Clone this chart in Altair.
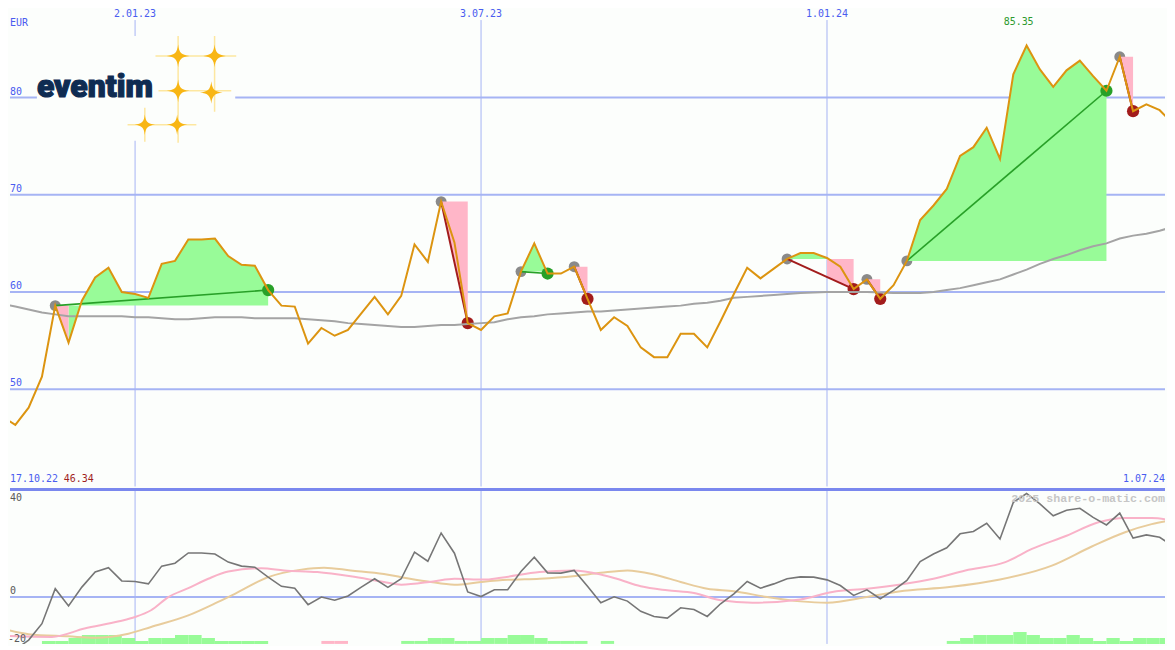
import altair as alt
import pandas as pd

# ---------------- data (weekly, week 0 = START) ----------------
START = "2022-10-24"
END = "2024-07-01"

PRICE = [47.2, 46.34, 48.1, 51.3, 58.6, 54.8, 59.1, 61.5, 62.5, 60.0,
         59.8, 59.4, 62.9, 63.2, 65.4, 65.4, 65.5, 63.7, 62.8, 62.7,
         60.2, 58.6, 58.5, 54.7, 56.3, 55.5, 56.1, 57.8, 59.5, 57.7,
         59.6, 64.9, 63.1, 69.3, 65.1, 56.8, 56.1, 57.5, 57.8, 62.1,
         65.0, 61.9, 61.9, 62.6, 59.3, 56.1, 57.4, 56.5, 54.3, 53.3,
         53.3, 55.7, 55.7, 54.3, 57.0, 59.8, 62.5, 61.4, 62.4, 63.4,
         64.0, 64.0, 63.5, 62.6, 60.3, 61.3, 59.3, 60.7, 63.2, 67.4,
         68.9, 70.6, 74.0, 74.9, 76.9, 73.7, 82.4, 85.35, 82.9, 81.1,
         82.8, 83.8, 82.2, 80.7, 84.2, 78.6, 79.3, 78.7, 77.3]

MA = [58.8, 58.5, 58.2, 57.9, 57.7, 57.5, 57.5, 57.5, 57.5, 57.5,
      57.4, 57.4, 57.3, 57.2, 57.2, 57.3, 57.4, 57.4, 57.4, 57.3,
      57.3, 57.3, 57.3, 57.2, 57.1, 57.0, 56.8, 56.7, 56.6, 56.5,
      56.4, 56.4, 56.5, 56.6, 56.6, 56.7, 56.8, 56.9, 57.2, 57.4,
      57.5, 57.7, 57.8, 57.9, 58.0, 58.0, 58.1, 58.2, 58.3, 58.4,
      58.5, 58.6, 58.8, 58.9, 59.1, 59.4, 59.5, 59.6, 59.7, 59.8,
      59.9, 59.95, 60.0, 60.0, 60.0, 60.0, 59.95, 59.9, 59.9, 59.9,
      60.0, 60.2, 60.4, 60.7, 61.0, 61.3, 61.8, 62.3, 62.9, 63.4,
      63.8, 64.3, 64.7, 65.0, 65.5, 65.8, 66.0, 66.3, 66.7]

OSC = [-18.8, -19.5, -16.0, -9.9, 3.1, -3.3, 3.7, 9.3, 10.9, 6.0,
       5.8, 4.9, 11.5, 12.6, 16.4, 16.4, 16.0, 13.0, 11.5, 11.1,
       7.4, 4.0, 3.3, -2.8, 0.0, -1.2, 0.4, 3.7, 6.8, 3.6,
       6.8, 16.7, 13.3, 23.8, 16.3, 1.9, 0.2, 2.7, 2.7, 9.5,
       14.8, 9.0, 8.9, 9.9, 4.0, -2.1, 0.1, -1.5, -5.3, -7.2,
       -7.8, -4.0, -4.6, -7.2, -2.5, 1.2, 5.8, 3.3, 4.9, 6.8,
       7.5, 7.4, 6.4, 4.3, 0.6, 2.7, -0.6, 2.5, 6.2, 13.2,
       16.0, 18.3, 23.5, 24.4, 27.4, 21.6, 35.2, 38.5, 34.6, 30.2,
       32.3, 33.0, 29.6, 26.8, 31.2, 21.9, 23.1, 22.2, 18.9]

FAST_WEEK = [0, 3.75, 6.2, 8.8, 10, 11.2, 12.5, 14, 15.5, 17, 19.5, 21.2, 23.7,
             26.2, 28.7, 30, 32.4, 34, 36.2, 37.5, 40.4, 42.9, 45, 46.2, 48, 50,
             52, 54, 56.4, 60, 62.4, 65, 67.4, 70, 72.4, 75.4, 77.4, 80, 82.4,
             84.4, 86.4, 88]
FAST_VAL = [-14.4, -14.8, -11.7, -9.0, -7.4, -4.9, 0.0, 3.3, 6.8, 9.5, 10.7, 9.9, 9.3,
            7.7, 5.6, 4.6, 5.8, 6.8, 6.5, 7.2, 9.3, 9.9, 8.4, 6.8, 4.0, 2.5,
            1.5, -1.2, -2.1, -0.9, 1.9, 3.1, 4.6, 6.8, 9.9, 13.0, 17.9, 22.8, 27.8,
            29.4, 29.4, 28.4]

SLOW_WEEK = [0, 2, 5, 7, 9.5, 11.2, 14, 16.2, 17.5, 20, 22.5, 24.2, 26.2, 28.7,
             30, 32, 34, 36, 38, 40.4, 42.9, 45, 47, 49, 51, 53, 55, 57.5, 60,
             62, 65, 67.4, 71.2, 75, 78.9, 81.9, 84.4, 86.4, 88]
SLOW_VAL = [-11.7, -13.8, -14.6, -15.1, -13.6, -11.1, -6.8, -1.9, 1.2, 7.4, 10.2, 10.9, 9.9, 8.6,
            7.4, 5.8, 4.6, 5.6, 6.4, 6.8, 7.7, 9.0, 9.9, 8.4, 5.6, 3.1, 2.2, 0.0, -1.6,
            -2.1, 0.0, 2.1, 3.7, 6.5, 11.7, 18.8, 24.1, 27.1, 28.6]

# trades: entry week, exit week, outcome
TRADE_IN = [4, 33, 39, 43, 59, 65, 68, 84]
TRADE_OUT = [20, 35, 41, 44, 64, 66, 83, 85]
TRADE_WIN = [True, False, True, False, False, False, True, False]

BAR_GAIN_WEEK = [3, 4, 5, 6, 7, 8, 9, 10, 11, 12, 13, 14, 15, 16, 17, 18, 19,
                 30, 31, 32, 33, 34, 35, 36, 37, 38, 39, 40, 41, 42, 43, 45,
                 71, 72, 73, 74, 75, 76, 77, 78, 79, 80, 81, 82, 83, 84, 85, 86, 87]
BAR_GAIN_LEVEL = [1, 1, 2, 3, 3, 3, 2, 1, 2, 2, 3, 3, 2, 1, 1, 1, 1,
                  1, 1, 2, 2, 1, 1, 2, 2, 3, 3, 2, 1, 1, 1, 1,
                  1, 2, 3, 3, 3, 4, 3, 2, 2, 3, 2, 1, 2, 1, 2, 2, 2]
BAR_LOSS_WEEK = [24, 25]
BAR_LOSS_LEVEL = [1, 1]

GRID_DATES = ["2023-01-02", "2023-07-03", "2024-01-01"]
GRID_LABELS = ["2.01.23", "3.07.23", "1.01.24"]
PRICE_TICKS = [50, 60, 70, 80]
OSC_TICKS = [40, 0, -20]
FIRST_LABEL, LOW_LABEL, LAST_LABEL, HIGH_LABEL = "17.10.22", "46.34", "1.07.24", "85.35"
CURRENCY = "EUR"
WATERMARK = "2025 share-o-matic.com"
LOGO_TEXT = "eventim"

# ---------------- styling / layout ----------------
BG = "#fcfefc"
GRID = "#a6b4f4"
SEP = "#7a88ee"
LBL = "#4a5cf0"
PRICE_C = "#dc9410"
MA_C = "#a4a4a4"
GAIN_FILL = "#98fb98"
LOSS_FILL = "#ffb6c8"
BUY_C = "#8a8a8a"
WIN_C = "#28a028"
LOSS_C = "#a21c1c"
OSC_C = "#767676"
FAST_C = "#f9b2c8"
SLOW_C = "#e8cc9c"
GOLD = "#f8b614"
RAY = "#fde7a0"
NAVY = "#0f2c52"
MONO = "DejaVu Sans Mono"

W, H1, H2 = 1159, 479, 155
t0 = pd.Timestamp(START)
TOTAL_DAYS = (pd.Timestamp(END) - t0).days
PX_PER_DAY = 1175 / TOTAL_DAYS
X0 = 8 / PX_PER_DAY
xs = alt.Scale(domain=[X0, X0 + W / PX_PER_DAY], nice=False, zero=False)
ys1 = alt.Scale(domain=[40, 89.1], nice=False, zero=False)
ys2 = alt.Scale(domain=[40 - H2 / 2.7, 40], nice=False, zero=False)
BAR_UNIT = 1.1


def day(d):
    return (pd.Timestamp(d) - t0).days


def X(f):
    return alt.X(f, type="quantitative", scale=xs, axis=None)


def Y1(f):
    return alt.Y(f, type="quantitative", scale=ys1, axis=None)


def Y2(f):
    return alt.Y(f, type="quantitative", scale=ys2, axis=None)


one = pd.DataFrame({"k": [0]})
weeks = list(range(len(PRICE)))
main_df = pd.DataFrame({"d": [7 * w for w in weeks], "price": PRICE, "ma": MA, "osc": OSC})
grid_df = pd.DataFrame({"d": [day(g) for g in GRID_DATES], "lab": GRID_LABELS})

# trade fills
rows = []
run = 0
TOL = 0.3
for b, s in zip(TRADE_IN, TRADE_OUT):
    lvl = PRICE[b]

    def tline(k, b=b, s=s):
        return PRICE[b] + (PRICE[s] - PRICE[b]) * (k - b) / (s - b)

    kinds = ["gain" if PRICE[k + 1] >= lvl - TOL else "loss" for k in range(b, s)]
    k = b
    while k < s:
        c = kinds[k - b]
        j = k
        while j < s and kinds[j - b] == c:
            j += 1
        for m in range(k, j + 1):
            lo = PRICE[m] if c == "gain" else min(PRICE[m], tline(m))
            rows.append({"d": 7 * m, "lo": lo, "lvl": lvl, "run": run, "kind": c})
        run += 1
        k = j
fill_df = pd.DataFrame(rows)

trade_df = pd.DataFrame({
    "d0": [7 * b for b in TRADE_IN], "d1": [7 * s for s in TRADE_OUT],
    "p0": [PRICE[b] for b in TRADE_IN], "p1": [PRICE[s] for s in TRADE_OUT],
    "win": TRADE_WIN,
})

# ---------------- main panel ----------------
hgrid = alt.Chart(pd.DataFrame({"v": PRICE_TICKS})).mark_rule(color=GRID, strokeWidth=2).encode(y=Y1("v"))
vgrid = alt.Chart(grid_df).mark_rule(color=GRID, strokeWidth=1).encode(
    x=X("d"), y=alt.value(11), y2=alt.value(H1))

# logo
logo_bg = alt.Chart(one).mark_rect(color=BG).encode(
    x=alt.value(27), x2=alt.value(226), y=alt.value(27), y2=alt.value(132))
RAYS_H = [(146, 227, 47), (149, 222, 82), (118, 187, 116)]
RAYS_V = [(168.7, 27, 134), (205.3, 27, 103), (135.3, 99, 133)]
rays_h = alt.Chart(pd.DataFrame(RAYS_H, columns=["a", "b", "c"])).mark_rule(
    color=RAY, strokeWidth=1.5).encode(x=alt.X("a:Q", scale=None, axis=None),
                                       x2="b:Q", y=alt.Y("c:Q", scale=None, axis=None))
rays_v = alt.Chart(pd.DataFrame(RAYS_V, columns=["a", "b", "c"])).mark_rule(
    color=RAY, strokeWidth=1.5).encode(x=alt.X("a:Q", scale=None, axis=None),
                                       y=alt.Y("b:Q", scale=None, axis=None), y2="c:Q")
STARS = [(168.7, 47, 520), (205.3, 47, 520), (168.7, 82, 520), (202, 83.7, 520),
         (135.3, 116, 420), (167.7, 116, 420)]
SPARKLE = ("M0,-1 C0.08,-0.28 0.28,-0.08 1,0 C0.28,0.08 0.08,0.28 0,1 "
           "C-0.08,0.28 -0.28,0.08 -1,0 C-0.28,-0.08 -0.08,-0.28 0,-1 Z")
stars = alt.Chart(pd.DataFrame(STARS, columns=["a", "b", "s"])).mark_point(
    shape=SPARKLE, filled=True, color=GOLD, opacity=1).encode(
    x=alt.X("a:Q", scale=None, axis=None), y=alt.Y("b:Q", scale=None, axis=None),
    size=alt.Size("s:Q", scale=None, legend=None))
logo_txt = alt.Chart(one).mark_text(
    text=LOGO_TEXT, font="Roboto", fontWeight=900, fontSize=32, color=NAVY,
    stroke=NAVY, strokeWidth=1.2, align="left", baseline="alphabetic").encode(
    x=alt.value(27), y=alt.value(88.5))

gain_area = alt.Chart(fill_df[fill_df.kind == "gain"]).mark_area(color=GAIN_FILL, opacity=1).encode(
    x=X("d"), y=Y1("lo"), y2="lvl:Q", detail="run:N")
loss_area = alt.Chart(fill_df[fill_df.kind == "loss"]).mark_area(color=LOSS_FILL, opacity=1).encode(
    x=X("d"), y=Y1("lo"), y2="lvl:Q", detail="run:N")

buy_pts = alt.Chart(trade_df).mark_circle(color=BUY_C, size=120, opacity=1).encode(x=X("d0"), y=Y1("p0"))
win_pts = alt.Chart(trade_df[trade_df.win]).mark_circle(color=WIN_C, size=150, opacity=1).encode(
    x=X("d1"), y=Y1("p1"))
loss_pts = alt.Chart(trade_df[~trade_df.win]).mark_circle(color=LOSS_C, size=150, opacity=1).encode(
    x=X("d1"), y=Y1("p1"))
win_lines = alt.Chart(trade_df[trade_df.win]).mark_rule(color=WIN_C, strokeWidth=1.6).encode(
    x=X("d0"), x2="d1:Q", y=Y1("p0"), y2="p1:Q")
loss_lines = alt.Chart(trade_df[~trade_df.win]).mark_rule(color=LOSS_C, strokeWidth=2).encode(
    x=X("d0"), x2="d1:Q", y=Y1("p0"), y2="p1:Q")

ma_line = alt.Chart(main_df).mark_line(color=MA_C, strokeWidth=2, clip=True).encode(x=X("d"), y=Y1("ma"))
price_line = alt.Chart(main_df).mark_line(color=PRICE_C, strokeWidth=2, clip=True).encode(x=X("d"), y=Y1("price"))

txt = dict(font=MONO, fontSize=10)
price_lbl = alt.Chart(pd.DataFrame({"v": PRICE_TICKS, "t": [str(v) for v in PRICE_TICKS]})).mark_text(
    color=LBL, align="left", baseline="alphabetic", dy=-3, **txt).encode(
    x=alt.value(0), y=Y1("v"), text="t:N")
date_lbl = alt.Chart(grid_df).mark_text(color=LBL, align="center", baseline="alphabetic", **txt).encode(
    x=X("d"), y=alt.value(8), text="lab:N")
cur_lbl = alt.Chart(one).mark_text(text=CURRENCY, color=LBL, align="left", baseline="middle", **txt).encode(
    x=alt.value(0), y=alt.value(13.7))
hi_lbl = alt.Chart(pd.DataFrame({"d": [7 * PRICE.index(max(PRICE))], "t": [HIGH_LABEL]})).mark_text(
    color="#2e9a2e", align="center", baseline="middle", dx=-8, **txt).encode(
    x=X("d"), y=alt.value(13), text="t:N")
first_lbl = alt.Chart(one).mark_text(text=FIRST_LABEL, color=LBL, align="left", baseline="alphabetic", **txt).encode(
    x=alt.value(0), y=alt.value(474.7))
low_lbl = alt.Chart(one).mark_text(text=LOW_LABEL, color="#a01e1e", align="left", baseline="alphabetic", **txt).encode(
    x=alt.value(54), y=alt.value(474.7))
last_lbl = alt.Chart(one).mark_text(text=LAST_LABEL, color=LBL, align="right", baseline="alphabetic", **txt).encode(
    x=alt.value(W), y=alt.value(474.7))

main = alt.layer(
    hgrid, vgrid, logo_bg, rays_h, rays_v, stars, logo_txt,
    buy_pts, gain_area, loss_area, win_pts, loss_pts, win_lines, loss_lines,
    ma_line, price_line,
    price_lbl, date_lbl, cur_lbl, hi_lbl, first_lbl, low_lbl, last_lbl,
).properties(width=W, height=H1)

# ---------------- lower panel ----------------
zero_rule = alt.Chart(pd.DataFrame({"v": [0]})).mark_rule(color=GRID, strokeWidth=2).encode(y=Y2("v"))
vgrid2 = alt.Chart(grid_df).mark_rule(color=GRID, strokeWidth=1).encode(
    x=X("d"), y=alt.value(0), y2=alt.value(H2))
sep = alt.Chart(one).mark_rule(color=SEP, strokeWidth=3).encode(
    x=alt.value(0), x2=alt.value(W), y=alt.value(0))

base = ys2.domain[0]
bar_gain_df = pd.DataFrame({"d0": [7 * w for w in BAR_GAIN_WEEK], "d1": [7 * w + 7 for w in BAR_GAIN_WEEK],
                            "lo": base, "hi": [base + BAR_UNIT * l for l in BAR_GAIN_LEVEL]})
bar_loss_df = pd.DataFrame({"d0": [7 * w for w in BAR_LOSS_WEEK], "d1": [7 * w + 7 for w in BAR_LOSS_WEEK],
                            "lo": base, "hi": [base + BAR_UNIT * l for l in BAR_LOSS_LEVEL]})
bars_gain = alt.Chart(bar_gain_df).mark_rect(color=GAIN_FILL, clip=True).encode(
    x=X("d0"), x2="d1:Q", y=Y2("lo"), y2="hi:Q")
bars_loss = alt.Chart(bar_loss_df).mark_rect(color=LOSS_FILL, clip=True).encode(
    x=X("d0"), x2="d1:Q", y=Y2("lo"), y2="hi:Q")

slow_df = pd.DataFrame({"d": [7 * w for w in SLOW_WEEK], "v": SLOW_VAL})
fast_df = pd.DataFrame({"d": [7 * w for w in FAST_WEEK], "v": FAST_VAL})
slow_line = alt.Chart(slow_df).mark_line(color=SLOW_C, strokeWidth=2, interpolate="monotone", clip=True).encode(
    x=X("d"), y=Y2("v"))
fast_line = alt.Chart(fast_df).mark_line(color=FAST_C, strokeWidth=2, interpolate="monotone", clip=True).encode(
    x=X("d"), y=Y2("v"))
osc_line = alt.Chart(main_df).mark_line(color=OSC_C, strokeWidth=1.6, clip=True).encode(x=X("d"), y=Y2("osc"))

osc_top = alt.Chart(pd.DataFrame({"v": OSC_TICKS[:1], "t": [str(v) for v in OSC_TICKS[:1]]})).mark_text(
    color="#5a5a5a", align="left", baseline="middle", dy=9, **txt).encode(x=alt.value(0), y=Y2("v"), text="t:N")
osc_zero = alt.Chart(pd.DataFrame({"v": OSC_TICKS[1:2], "t": [str(v) for v in OSC_TICKS[1:2]]})).mark_text(
    color="#5a5a5a", align="left", baseline="middle", dy=-6, **txt).encode(x=alt.value(0), y=Y2("v"), text="t:N")
osc_low = alt.Chart(pd.DataFrame({"t": [str(v) for v in OSC_TICKS[2:]]})).mark_text(
    color="#5a5a5a", align="left", baseline="bottom", **txt).encode(
    x=alt.value(-2), y=alt.value(H2), text="t:N")
wm = alt.Chart(one).mark_text(text=WATERMARK, font="Liberation Mono", fontSize=11.7, fontWeight="bold",
                              color="#c6c6c6", align="right", baseline="middle").encode(
    x=alt.value(W), y=alt.value(8.5))

lower = alt.layer(
    zero_rule, vgrid2, bars_gain, bars_loss, slow_line, fast_line, osc_line,
    osc_top, osc_zero, osc_low, wm, sep,
).properties(width=W, height=H2)

chart = alt.vconcat(main, lower, spacing=0).properties(
    padding=0, background=BG
).configure_view(strokeWidth=0)

chart.save("out.html", embed_options={"renderer": "svg", "actions": False})
